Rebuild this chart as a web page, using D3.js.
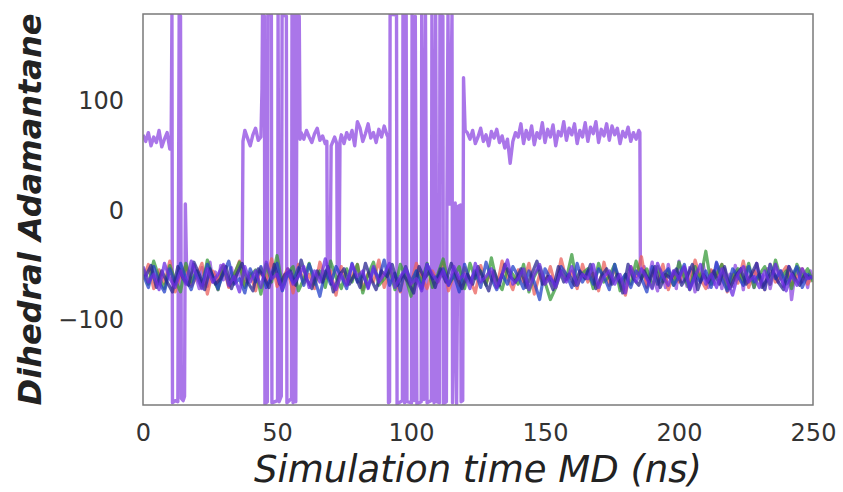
<!DOCTYPE html>
<html>
<head>
<meta charset="utf-8">
<script src="https://cdn.jsdelivr.net/npm/d3@7/dist/d3.min.js"></script>
<style>
  html, body { margin: 0; padding: 0; background: #ffffff; }
  svg { display: block; }
</style>
</head>
<body>
<div id="chart"></div>
<script>
// Adamantane dihedral angle (degrees) along the MD trajectory, sampled every 2 ns
const bgStep = 2;
const dihedralRed = [
  -64,-50,-72,-55,-67,-47,-75,-58,-52,-70,-61,-49,-77,-56,
  -66,-51,-71,-60,-47,-69,-58,-74,-53,-65,-45,-70,-63,-54,
  -76,-50,-67,-59,-72,-48,-63,-56,-78,-52,-68,-61,-50,-73,
  -58,-66,-46,-71,-55,-64,-75,-52,-68,-49,-62,-72,-56,-66,
  -48,-74,-59,-69,-53,-63,-76,-51,-67,-57,-71,-47,-62,-73,
  -55,-66,-49,-77,-59,-68,-52,-71,-45,-64,-56,-72,-50,-66,
  -58,-74,-48,-69,-54,-63,-78,-52,-61,-43,-71,-56,-68,-50,
  -73,-59,-66,-53,-69,-46,-63,-72,-55,-61,-50,-75,-59,-67,
  -47,-71,-56,-63,-73,-50,-66,-59,-52,-69,-61,-54,-68,-60
];
const dihedralGreen = [
  -54,-68,-47,-62,-72,-51,-64,-75,-49,-66,-56,-71,-46,-62,
  -73,-52,-68,-59,-48,-71,-61,-55,-77,-50,-66,-42,-69,-58,
  -52,-74,-63,-49,-68,-56,-71,-47,-62,-72,-54,-66,-50,-76,
  -59,-48,-69,-63,-54,-73,-50,-61,-79,-56,-66,-49,-71,-59,
  -45,-68,-61,-52,-72,-49,-63,-56,-69,-44,-66,-73,-54,-59,
  -68,-50,-75,-61,-52,-66,-82,-71,-56,-63,-41,-69,-58,-54,
  -72,-49,-66,-61,-50,-74,-59,-68,-47,-63,-54,-71,-52,-66,
  -56,-69,-48,-62,-73,-52,-64,-38,-68,-59,-50,-72,-61,-54,
  -66,-49,-71,-59,-52,-68,-46,-63,-56,-72,-50,-61,-54,-66
];
const dihedralBlue = [
  -59,-71,-52,-66,-75,-54,-68,-49,-63,-73,-56,-69,-50,-61,
  -72,-58,-47,-68,-63,-76,-54,-66,-52,-71,-61,-49,-74,-58,
  -66,-53,-69,-50,-63,-79,-56,-68,-52,-61,-72,-49,-66,-59,
  -71,-54,-63,-46,-69,-58,-74,-52,-66,-56,-72,-50,-63,-61,
  -54,-69,-59,-75,-50,-66,-56,-71,-48,-63,-73,-59,-68,-52,
  -61,-72,-56,-66,-82,-54,-63,-69,-52,-59,-71,-49,-66,-56,
  -68,-54,-61,-73,-50,-66,-59,-71,-56,-63,-75,-52,-68,-59,
  -54,-69,-61,-50,-72,-59,-66,-56,-71,-48,-63,-74,-54,-61,
  -69,-52,-66,-59,-73,-50,-63,-56,-68,-61,-52,-71,-59,-63
];
const dihedralViolet = [
  -52,-66,-59,-73,-49,-63,-71,-56,-68,-47,-61,-72,-54,-66,
  -59,-50,-69,-61,-75,-52,-66,-56,-71,-48,-63,-59,-73,-54,
  -68,-61,-52,-71,-56,-66,-45,-63,-73,-59,-69,-50,-61,-56,
  -72,-52,-66,-59,-49,-71,-61,-54,-68,-63,-74,-50,-59,-66,
  -56,-69,-52,-63,-59,-72,-49,-66,-61,-54,-71,-59,-46,-68,
  -63,-54,-73,-59,-50,-68,-61,-71,-56,-66,-52,-69,-59,-63,
  -50,-71,-61,-56,-68,-59,-76,-52,-66,-54,-63,-72,-49,-61,
  -69,-56,-63,-52,-73,-61,-50,-68,-59,-71,-54,-66,-78,-59,
  -52,-66,-61,-71,-56,-68,-50,-63,-74,-59,-69,-54,-63,-61
];
// navy replica was written out on the odd nanoseconds (1, 3, ... 249)
const navyStart = 1;
const dihedralNavy = [
  -61,-51,-71,-56,-66,-75,-52,-63,-69,-48,-59,-73,-54,-68,
  -63,-52,-72,-59,-49,-66,-74,-54,-61,-71,-50,-68,-59,-56,
  -69,-46,-63,-72,-56,-66,-52,-75,-61,-54,-68,-59,-71,-49,
  -63,-73,-56,-61,-50,-69,-59,-66,-76,-52,-63,-56,-71,-54,
  -66,-49,-61,-72,-59,-68,-52,-63,-74,-56,-69,-50,-61,-66,
  -54,-71,-59,-47,-68,-61,-73,-52,-66,-59,-69,-56,-63,-50,
  -72,-61,-54,-68,-59,-76,-50,-63,-69,-56,-66,-52,-71,-59,
  -63,-54,-69,-61,-50,-73,-59,-66,-56,-68,-52,-72,-61,-54,
  -68,-59,-49,-71,-63,-56,-66,-73,-52,-61,-69,-59,-63
];

// Replica that flips between the two wells: [time (ns), angle (deg)]
const dihedralFlip = [
  [0,68],[1,62],[2,70],[3,58],[4,66],[5,61],[6,72],[7,57],[8,64],[9,70],[10,55],[10.5,60],
  [10.8,178],[11,-176],[12,-174],[13,-175],[13.5,178],[14,176],[14.3,-172],[15,-174],[15.5,-170],
  [15.8,5],[16.3,-58],
  [17,-56],[18,-68],[19,-50],[20,-63],[21,-72],[22,-53],[23,-61],[24,-70],[25,-48],[26,-66],
  [27,-57],[28,-73],[29,-51],[30,-64],[31,-59],[32,-70],[33,-53],[34,-66],[35,-61],[36,-55],[37,-68],
  [37.3,62],[38,72],[39,65],[40,58],[41,68],[42,74],[43,63],[44,66],
  [44.4,110],[44.6,178],[45.3,176],[45.5,-177],[46.4,-175],[46.6,178],[47.9,177],[48.1,-176],
  [50.2,-174],[50.4,178],[50.8,-175],[51.6,-170],[51.9,177],[53.5,176],[53.7,-176],[55.4,-172],
  [55.6,178],[56,-176],[56.5,177],[57,-175],[57.5,178],[58.3,176],
  [58.6,64],[59,70],[60,64],[61,72],[62,66],[63,61],[64,69],[65,74],[66,63],[67,67],[68,60],
  [68.6,62],[68.8,-60],[69.8,-64],[70.2,58],[71.5,66],[72.3,60],[72.5,-58],[73.2,-62],[73.5,62],
  [74,68],[75,60],[76,70],[77,64],[78,72],[79,58],[80,80],[81,74],[82,62],[83,69],[84,78],
  [85,65],[86,70],[87,61],[88,73],[89,66],[90,76],[91,68],[91.4,66],
  [91.6,-176],[92,-175],[92.2,178],[94.6,177],[94.8,-177],[96.8,-174],[97,178],[97.6,-176],
  [98.2,177],[98.5,-175],[100.2,-176],[100.4,178],[101.2,-174],[101.6,176],[102.2,-177],
  [103.8,-175],[104,178],[104.8,-173],[105.4,177],[106,-176],[107.6,-174],[107.8,178],
  [108.6,-176],[109.2,177],[109.7,-175],[110.6,-176],[110.8,178],[111.9,176],[112.1,-177],
  [113.2,-175],[113.4,4],[113.8,178],[114.4,5],[115.3,177],[115.5,-176],[116.5,6],[117,-177],
  [117.6,3],[118.5,4],[118.7,-175],[119.3,-174],[119.6,120],[120.2,72],
  [121,70],[122,64],[123,72],[124,60],[125,66],[126,74],[127,62],[128,68],[129,58],[130,71],
  [131,65],[132,73],[133,61],[134,67],[135,56],[136,64],[137,42],[138,62],[139,70],[140,66],
  [141,78],[142,60],[143,72],[144,64],[145,76],[146,59],[147,70],[148,65],[149,79],[150,61],
  [151,73],[152,66],[153,77],[154,58],[155,71],[156,67],[157,80],[158,63],[159,74],[160,68],
  [161,78],[162,60],[163,72],[164,66],[165,79],[166,62],[167,75],[168,69],[169,80],[170,61],
  [171,73],[172,67],[173,78],[174,63],[175,76],[176,68],[177,74],[178,60],[179,71],[180,66],
  [181,75],[182,62],[183,70],[184,64],[185,72],[185.4,70],[185.6,-60],
  [186,-63],[187,-52],[188,-70],[189,-59],[190,-48],[191,-66],[192,-74],[193,-55],[194,-62],
  [195,-71],[196,-50],[197,-64],[198,-56],[199,-72],[200,-47],[201,-66],[202,-59],[203,-70],
  [204,-53],[205,-62],[206,-75],[207,-55],[208,-66],[209,-50],[210,-63],[211,-71],[212,-56],
  [213,-68],[214,-49],[215,-61],[216,-72],[217,-54],[218,-66],[219,-59],[220,-70],[221,-51],
  [222,-63],[223,-56],[224,-73],[225,-53],[226,-66],[227,-61],[228,-71],[229,-49],[230,-63],
  [231,-59],[232,-69],[233,-54],[234,-72],[235,-61],[236,-50],[237,-66],[238,-56],[239,-70],
  [240,-59],[241,-52],[242,-82],[243,-63],[244,-55],[245,-54],[246,-66],[247,-59],[248,-71],
  [249,-56],[250,-63]
];

const xTicks = [0, 50, 100, 150, 200, 250];
const yTicks = [-100, 0, 100];
const xTitle = "Simulation time MD (ns)";
const yTitle = "Dihedral Adamantane";

const width = 843, height = 492;
const margin = { top: 14, right: 30, bottom: 87, left: 143 };

const svg = d3.select("#chart").append("svg")
  .attr("width", width).attr("height", height);

const x = d3.scaleLinear().domain([0, 250]).range([margin.left, width - margin.right]);
const y = d3.scaleLinear().domain([-178, 178]).range([height - margin.bottom, margin.top]);

const plot = svg.append("g");
plot.append("clipPath").attr("id", "clip").append("rect")
  .attr("x", x(0)).attr("y", y(178)).attr("width", x(250) - x(0)).attr("height", y(-178) - y(178));

const line = d3.line().x(d => x(d[0])).y(d => y(d[1]));
const layers = plot.append("g").attr("clip-path", "url(#clip)");

// flipping replica underneath, steady replicas layered on top
layers.append("path")
  .datum(dihedralFlip)
  .attr("fill", "none").attr("stroke", "#a56fe8").attr("stroke-width", 3.4)
  .attr("stroke-linejoin", "round").attr("opacity", 0.95)
  .attr("d", line);

const steady = [
  { values: dihedralRed, start: 0, color: "#ea605c" },
  { values: dihedralGreen, start: 0, color: "#379a3a" },
  { values: dihedralBlue, start: 0, color: "#2340c8" },
  { values: dihedralNavy, start: navyStart, color: "#2a2590" },
  { values: dihedralViolet, start: 0, color: "#6b2ce2" }
];
steady.forEach(s => {
  layers.append("path")
    .datum(s.values.map((v, i) => [s.start + i * bgStep, v]))
    .attr("fill", "none").attr("stroke", s.color).attr("stroke-width", 3.2)
    .attr("stroke-linejoin", "round").attr("opacity", 0.75)
    .attr("d", line);
});

// frame
svg.append("rect")
  .attr("x", x(0)).attr("y", y(178)).attr("width", x(250) - x(0)).attr("height", y(-178) - y(178))
  .attr("fill", "none").attr("stroke", "#7a7a7a").attr("stroke-width", 1.5);

const fmt = d => d < 0 ? "\u2212" + Math.abs(d) : String(d);

const xAxis = svg.append("g")
  .attr("transform", `translate(0,${y(-178)})`)
  .call(d3.axisBottom(x).tickValues(xTicks).tickSize(0).tickPadding(22).tickFormat(fmt));
const yAxis = svg.append("g")
  .attr("transform", `translate(${x(0)},0)`)
  .call(d3.axisLeft(y).tickValues(yTicks).tickSize(0).tickPadding(19).tickFormat(fmt));
[xAxis, yAxis].forEach(a => {
  a.select(".domain").remove();
  a.selectAll("text")
    .attr("fill", "#333333")
    .style("font-family", "'DejaVu Sans', sans-serif")
    .style("font-size", "24px");
});
yAxis.selectAll("text").attr("dy", "0.36em");
xAxis.selectAll("text").attr("dy", "0.6em");

svg.append("text")
  .attr("x", (x(0) + x(250)) / 2).attr("y", 482)
  .attr("text-anchor", "middle")
  .attr("fill", "#222222")
  .style("font-family", "'DejaVu Sans', sans-serif")
  .style("font-size", "37px").style("font-style", "italic")
  .text(xTitle);

svg.append("text")
  .attr("transform", `translate(41,${(y(178) + y(-178)) / 2}) rotate(-90)`)
  .attr("text-anchor", "middle")
  .attr("fill", "#222222")
  .style("font-family", "'DejaVu Sans', sans-serif")
  .style("font-size", "32px").style("font-style", "italic").style("font-weight", "bold")
  .text(yTitle);
</script>
</body>
</html>
